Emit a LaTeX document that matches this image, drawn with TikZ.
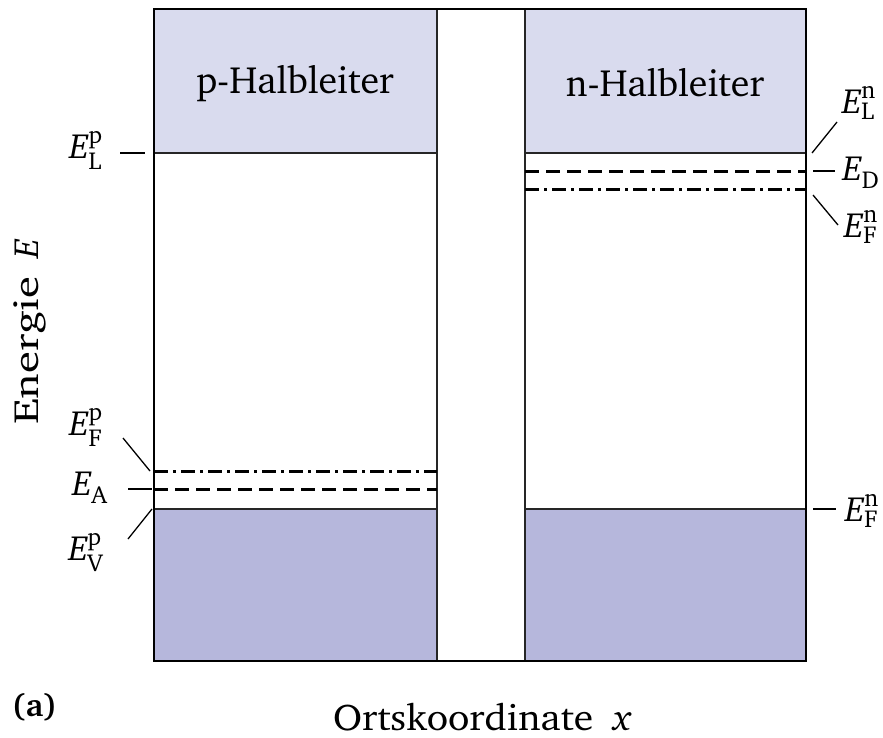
\documentclass[tikz,border=0pt]{standalone}
\usepackage[T1]{fontenc}
\usepackage{charter}
\usepackage{amsmath}
\usepackage{graphicx}
\definecolor{bandup}{HTML}{D9DBEE}
\definecolor{banddown}{HTML}{B6B7DC}
\newcommand{\EL}[2]{$\textit{E}^{\text{#2}}_{\text{#1}}$}
\newcommand{\ES}[1]{$\textit{E}_{\text{#1}}$}
\tikzset{
  frameline/.style={line width=2.4pt, black},
  bandline/.style={line width=1.4pt, black!85},
  ticklbl/.style={line width=1.3pt, black},
  dashlvl/.style={line width=3pt, dash pattern=on 14pt off 7pt},
  dotlvl/.style={line width=3pt, dash pattern=on 14pt off 5pt on 3pt off 5pt},
  txt/.style={inner sep=0pt, font=\fontsize{35}{42}\selectfont},
  title/.style={inner sep=0pt, font=\fontsize{38}{44}\selectfont},
}
\begin{document}
\begin{tikzpicture}[x=1pt,y=-1pt]
\useasboundingbox (0,0) rectangle (883,737);
% bands
\fill[bandup] (154,9) rectangle (437,153);
\fill[bandup] (525,9) rectangle (806,153);
\fill[banddown] (154,509) rectangle (437,661);
\fill[banddown] (525,509) rectangle (806,661);
\draw[bandline] (154,153) -- (437,153);
\draw[bandline] (525,153) -- (806,153);
\draw[bandline] (154,509) -- (437,509);
\draw[bandline] (525,509) -- (806,509);
\draw[bandline] (437,9) -- (437,661);
\draw[bandline] (525,9) -- (525,661);
% levels
\draw[dotlvl] (154,471) -- (437,471);
\draw[dashlvl] (154,489) -- (437,489);
\draw[dashlvl] (525,171) -- (806,171);
\draw[dotlvl] (525,189) -- (806,189);
\draw[frameline] (154,9) rectangle (806,661);
% titles
\node[title] (ph) at (295,83) {p-Halbleiter};
\node[title] (nh) at (665,83) {n-Halbleiter};
% left labels
\node[txt,anchor=base] (ELp) at (86,158) {\EL{L}{p}};
\node[txt,anchor=base] (EFp) at (86,435) {\EL{F}{p}};
\node[txt,anchor=base] (EA) at (90,495) {\ES{A}};
\node[txt,anchor=base] (EVp) at (86,560) {\EL{V}{p}};
\coordinate (tLp) at (145,153);
\coordinate (tFp) at (150,471);
\coordinate (tA) at (152,489);
\coordinate (tVp) at (152,509);
\draw[ticklbl] (120,153) -- (tLp);
\draw[ticklbl] (123,438) -- (tFp);
\draw[ticklbl] (128,489) -- (tA);
\draw[ticklbl] (128,539) -- (tVp);
% right labels
\node[txt,anchor=base] (ELn) at (859,113) {\EL{L}{n}};
\node[txt,anchor=base] (ED) at (861,180) {\ES{D}};
\node[txt,anchor=base] (EFn) at (861,237) {\EL{F}{n}};
\node[txt,anchor=base] (EFn2) at (862,521) {\EL{F}{n}};
\coordinate (rL) at (812,153);
\coordinate (rD) at (813,171);
\coordinate (rF) at (813,195);
\coordinate (rF2) at (813,509);
\draw[ticklbl] (rL) -- (837,122);
\draw[ticklbl] (rD) -- (835,171);
\draw[ticklbl] (rF) -- (838,225);
\draw[ticklbl] (rF2) -- (836,509);
% axes labels
\node[inner sep=0pt, font=\fontsize{35}{42}\selectfont, rotate=90] (en) at (30,332) {\scalebox{1.28}[1]{Energie}\hspace{18pt}\textit{E}};
\node[inner sep=0pt, font=\fontsize{32}{38}\selectfont, anchor=base west] (a) at (12,716) {\textbf{(a)}};
\node[inner sep=0pt, font=\fontsize{37}{44}\selectfont, anchor=base west] (ort) at (333,730) {\scalebox{1.07}[1]{Ortskoordinate}\hspace{20pt}\textit{x}};
\end{tikzpicture}
\end{document}
